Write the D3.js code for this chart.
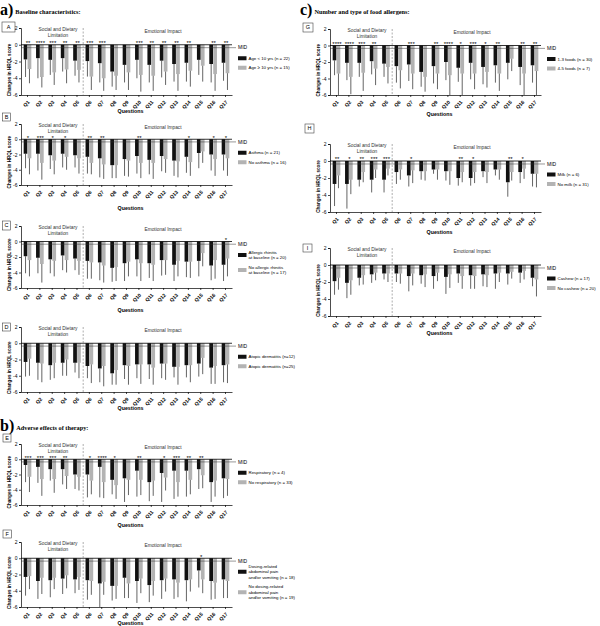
<!DOCTYPE html>
<html>
<head>
<meta charset="utf-8">
<script src="https://cdn.jsdelivr.net/npm/d3@7"></script>
<style>
  body { margin: 0; background: #fff; }
  svg text { font-family: "Liberation Sans", Arial, sans-serif; }
</style>
</head>
<body>
<div id="chart"></div>
<script>
/* CONSTANTS AND GLOBALS */
const width = 600,
  height = 626,
  plotW = 211,
  mid = -0.35;

const questions = ["Q1","Q2","Q3","Q4","Q5","Q6","Q7","Q8","Q9","Q10","Q11","Q12","Q13","Q14","Q15","Q16","Q17"];
const yTicks = [2, 0, -2, -4, -6];

/* DATA - mean change and SD per question */
// A: age
const ageYoungMean = [-1.75,-1.6,-1.8,-1.6,-1.9,-1.95,-2.2,-3.2,-2.4,-1.8,-2.4,-1.9,-2.3,-2.15,-1.8,-2.3,-2.15];
const ageYoungSD   = [2.1,2.4,1.8,1.6,1.8,1.85,2.3,1.8,2.1,2.2,2.1,2.0,2.1,2.25,1.8,2.2,2.15];
const ageOldMean   = [-2.9,-3.85,-3.3,-2.95,-3.0,-3.8,-4.0,-3.7,-3.3,-3.6,-3.7,-3.2,-3.5,-3.1,-2.5,-3.5,-3.4];
const ageOldSD     = [1.7,1.25,1.5,1.65,1.5,1.6,1.5,1.7,2.1,2.0,1.8,1.6,2.0,1.9,1.9,2.0,2.0];
const ageStars     = ["**","****","***","**","**","***","***","","","***","**","**","**","**","","**","**"];
// B: asthma
const asthmaMean   = [-1.9,-1.9,-2.1,-1.9,-2.1,-2.3,-2.5,-3.4,-2.6,-2.2,-2.7,-2.2,-2.8,-2.3,-1.8,-2.0,-2.0];
const asthmaSD     = [1.9,2.2,1.8,1.8,1.6,2.2,2.5,1.7,2.2,2.3,1.9,2.0,2.0,2.1,2.0,2.1,2.1];
const noAsthmaMean = [-2.5,-3.1,-2.8,-2.3,-2.5,-3.1,-3.3,-3.4,-2.8,-3.1,-3.1,-2.6,-2.9,-3.0,-1.6,-2.6,-2.5];
const noAsthmaSD   = [2.1,2.2,1.8,1.7,2.0,1.5,1.9,1.7,2.1,2.0,2.1,1.8,2.1,1.8,1.5,2.2,2.3];
const asthmaStars  = ["*","***","*","*","","**","**","","","**","","","","*","","*","*"];
// C: allergic rhinitis
const rhinitisMean   = [-1.9,-2.1,-2.3,-1.8,-2.2,-2.5,-2.7,-3.4,-2.8,-2.3,-2.8,-2.4,-3.0,-2.6,-2.5,-3.1,-3.0];
const rhinitisSD     = [2.2,2.0,1.8,1.9,1.5,2.3,2.3,1.8,2.3,2.2,1.9,2.0,2.1,2.0,2.0,1.9,2.1];
const noRhinitisMean = [-2.4,-2.9,-2.5,-2.4,-2.5,-2.7,-3.1,-3.3,-2.6,-2.8,-3.0,-2.4,-2.5,-2.6,-1.5,-2.4,-2.2];
const noRhinitisSD   = [2.1,2.4,2.0,1.6,1.8,2.1,2.2,1.8,1.9,2.3,2.1,1.9,2.0,2.1,1.7,2.4,2.3];
const rhinitisStars  = ["","","","","","","","","","","","","","","","","*"];
// D: atopic dermatitis
const adYesMean = [-2.3,-2.4,-2.7,-2.4,-2.4,-2.8,-3.1,-3.7,-2.7,-2.6,-2.6,-2.5,-2.9,-2.7,-2.5,-3.0,-2.7];
const adYesSD   = [1.8,2.1,1.8,1.6,1.2,1.5,1.7,1.4,1.7,1.7,1.8,1.8,1.3,1.5,1.6,2.0,2.1];
const adNoMean  = [-1.9,-2.5,-2.4,-2.0,-2.4,-2.6,-2.8,-3.3,-2.8,-2.6,-3.0,-2.5,-2.9,-2.7,-1.8,-2.8,-2.6];
const adNoSD    = [2.1,2.3,1.9,2.0,1.9,2.3,2.5,1.8,2.3,2.4,2.1,2.0,2.2,2.1,2.0,2.2,2.3];
const adStars   = ["","","","","","","","","","","","","","","","",""];
// E: respiratory adverse effects
const respMean   = [-0.75,-1.0,-1.3,-1.3,-2.0,-2.0,-1.0,-2.7,-2.5,-1.5,-3.0,-1.8,-1.5,-1.5,-1.3,-3.0,-2.5];
const respSD     = [2.25,2.1,1.5,2.0,1.9,3.0,4.0,1.9,3.1,3.4,2.5,3.8,3.7,3.4,2.6,2.6,2.6];
const noRespMean = [-2.3,-2.6,-2.6,-2.2,-2.3,-2.8,-3.0,-3.4,-2.7,-2.7,-2.8,-2.4,-3.0,-2.7,-2.1,-2.8,-2.6];
const noRespSD   = [2.0,2.2,1.8,1.7,1.8,1.8,2.1,1.8,2.0,2.0,2.0,1.7,1.9,1.9,1.7,2.1,2.2];
const respStars  = ["***","***","***","**","","*","****","*","","**","","*","***","**","**","",""];
// F: dosing-related abdominal pain
const abdoMean   = [-2.3,-2.8,-2.7,-2.5,-2.6,-2.7,-3.1,-3.4,-2.4,-2.8,-3.3,-2.7,-2.6,-2.7,-1.5,-2.8,-2.6];
const abdoSD     = [2.3,2.2,2.1,1.9,1.7,2.4,2.9,1.8,2.5,2.7,2.1,2.3,2.4,2.6,2.1,2.3,2.3];
const noAbdoMean = [-2.2,-2.4,-2.4,-2.1,-2.3,-2.8,-2.9,-3.4,-3.1,-2.5,-2.8,-2.5,-3.0,-2.6,-2.6,-3.0,-2.8];
const noAbdoSD   = [1.6,2.0,1.4,1.6,1.6,1.7,1.6,1.6,1.8,1.8,1.8,1.6,1.8,1.5,1.7,2.0,2.1];
const abdoStars  = ["","","","","","","","","","","","","","","*","",""];
// G: number of foods
const fewFoodsMean  = [-1.8,-2.1,-2.1,-1.9,-2.2,-2.5,-2.3,-3.2,-2.5,-2.0,-2.7,-2.1,-2.6,-2.4,-2.1,-2.6,-2.4];
const fewFoodsSD    = [1.8,2.1,1.7,1.6,1.6,2.0,2.0,1.8,2.1,2.2,1.7,2.0,2.1,2.1,2.0,2.2,2.1];
const manyFoodsMean = [-3.4,-3.8,-3.3,-2.8,-2.6,-3.0,-3.4,-3.8,-3.4,-3.6,-3.4,-3.4,-3.2,-3.4,-1.6,-3.4,-3.1];
const manyFoodsSD   = [2.6,2.1,2.2,2.0,2.0,2.2,1.9,1.8,1.9,2.4,2.6,1.9,1.9,2.1,1.5,2.6,2.9];
const foodsStars    = ["****","****","***","**","","","***","","**","****","*","***","*","**","","**","**"];
// H: milk
const milkMean   = [-2.7,-2.7,-2.2,-2.2,-2.2,-1.3,-1.7,-1.2,-1.0,-1.2,-2.0,-2.0,-1.2,-1.0,-2.5,-1.3,-1.5];
const milkSD     = [2.6,2.9,0.8,1.5,1.5,1.4,1.3,1.0,0.5,1.1,0.9,0.9,0.7,0.7,1.7,1.3,1.5];
const noMilkMean = [-1.7,-2.2,-1.3,-1.0,-0.9,-1.0,-1.1,-1.2,-1.0,-1.2,-1.3,-1.3,-1.3,-1.0,-1.3,-0.9,-1.5];
const noMilkSD   = [1.5,1.7,1.2,1.0,0.8,1.2,1.5,1.1,1.2,1.6,1.2,1.3,1.3,1.2,1.0,1.2,1.6];
const milkStars  = ["**","*","**","***","***","","*","","","","**","*","","","**","*",""];
// I: cashew
const cashewMean   = [-1.9,-2.1,-1.5,-1.1,-1.0,-1.0,-1.3,-1.2,-1.3,-1.4,-1.0,-1.2,-1.1,-1.0,-1.0,-0.9,-1.5];
const cashewSD     = [1.6,1.8,0.9,1.0,0.7,1.0,1.8,1.0,1.5,2.0,1.1,1.6,1.4,1.8,1.3,1.2,1.0];
const noCashewMean = [-1.5,-1.8,-1.2,-0.9,-1.0,-1.0,-1.0,-1.1,-0.9,-1.1,-1.3,-1.3,-1.2,-0.9,-0.8,-0.7,-1.7];
const noCashewSD   = [1.4,1.7,1.1,0.9,1.0,1.2,1.4,1.5,1.0,1.6,1.5,1.5,1.4,1.1,0.8,1.0,2.0];
const cashewStars  = ["","","","","","","","","","","","","","","","",""];

/* PANELS - data and legend text */
const panels = [
  { id: "A", s1: [ageYoungMean, ageYoungSD], s2: [ageOldMean, ageOldSD], stars: ageStars,
    legend: [["Age < 10 yrs (n = 22)"], ["Age \u2265 10 yrs (n = 15)"]] },
  { id: "B", s1: [asthmaMean, asthmaSD], s2: [noAsthmaMean, noAsthmaSD], stars: asthmaStars,
    legend: [["Asthma (n = 21)"], ["No asthma (n = 16)"]] },
  { id: "C", s1: [rhinitisMean, rhinitisSD], s2: [noRhinitisMean, noRhinitisSD], stars: rhinitisStars,
    legend: [["Allergic rhinitis", "at baseline (n = 20)"], ["No allergic rhinitis", "at baseline (n = 17)"]] },
  { id: "D", s1: [adYesMean, adYesSD], s2: [adNoMean, adNoSD], stars: adStars,
    legend: [["Atopic dermatitis (n=12)"], ["Atopic dermatitis (n=25)"]] },
  { id: "E", s1: [respMean, respSD], s2: [noRespMean, noRespSD], stars: respStars,
    legend: [["Respiratory  (n = 4)"], ["No respiratory (n = 33)"]] },
  { id: "F", s1: [abdoMean, abdoSD], s2: [noAbdoMean, noAbdoSD], stars: abdoStars,
    legend: [["Dosing-related", "abdominal pain", "and/or vomiting (n = 18)"], ["No dosing-related", "abdominal pain", "and/or vomiting (n = 19)"]] },
  { id: "G", s1: [fewFoodsMean, fewFoodsSD], s2: [manyFoodsMean, manyFoodsSD], stars: foodsStars,
    legend: [["1-3 foods (n = 30)"], ["4-5 foods (n = 7)"]] },
  { id: "H", s1: [milkMean, milkSD], s2: [noMilkMean, noMilkSD], stars: milkStars,
    legend: [["Milk (n = 6)"], ["No milk (n = 31)"]] },
  { id: "I", s1: [cashewMean, cashewSD], s2: [noCashewMean, noCashewSD], stars: cashewStars,
    legend: [["Cashew (n = 17)"], ["No cashew (n = 20)"]] }
];

// where each panel sits on the page
const layout = {
  A: { x0: 21,  top: 28,  bot: 95,  qy: 111, boxX: 2,   boxY: 22,  boxW: 13, boxH: 10 },
  B: { x0: 21,  top: 124, bot: 185, qy: 208, boxX: 2.5, boxY: 113, boxW: 8,  boxH: 8 },
  C: { x0: 21,  top: 226, bot: 288, qy: 310, boxX: 2.5, boxY: 221, boxW: 8,  boxH: 9 },
  D: { x0: 21,  top: 327, bot: 392, qy: 408, boxX: 2.5, boxY: 323, boxW: 8,  boxH: 8 },
  E: { x0: 21,  top: 444, bot: 505, qy: 525, boxX: 3,   boxY: 434, boxW: 8,  boxH: 8 },
  F: { x0: 21,  top: 542, bot: 607, qy: 623, boxX: 3,   boxY: 530, boxW: 8.5, boxH: 8 },
  G: { x0: 330, top: 29,  bot: 95,  qy: 114, boxX: 303, boxY: 23,  boxW: 10, boxH: 9 },
  H: { x0: 330, top: 144, bot: 212, qy: 232, boxX: 305, boxY: 124, boxW: 9,  boxH: 9 },
  I: { x0: 330, top: 248, bot: 316, qy: 333, boxX: 303, boxY: 244, boxW: 9,  boxH: 8 }
};

const colors = ["#111111", "#b3b3b3"];

/* SVG */
const svg = d3.select("#chart")
  .append("svg")
  .attr("width", width)
  .attr("height", height);

// section headings
const headings = [
  { x: 0, y: 15, letter: "a)", text: "Baseline characteristics:" },
  { x: 0, y: 431, letter: "b)", text: "Adverse effects of therapy:" },
  { x: 300, y: 15, letter: "c)", text: "Number and type of food allergens:" }
];
headings.forEach(h => {
  const t = svg.append("text")
    .attr("x", h.x)
    .attr("y", h.y)
    .style("font-family", "'Liberation Serif', 'Times New Roman', serif")
    .style("font-weight", "bold");
  t.append("tspan").style("font-size", "16px").text(h.letter);
  t.append("tspan").attr("dx", 2).attr("dy", -1.5).style("font-size", "6.3px").text(h.text);
});

panels.forEach(p => drawPanel(p, layout[p.id]));

/* DRAW ONE PANEL */
function drawPanel(p, lay) {
  const g = svg.append("g").attr("class", "panel-" + p.id);

  const xScale = d3.scaleBand()
    .domain(questions)
    .range([lay.x0, lay.x0 + plotW])
    .paddingInner(0.35)
    .paddingOuter(0.2);

  const sScale = d3.scaleBand()
    .domain([0, 1])
    .range([0, xScale.bandwidth()])
    .padding(0.05);

  const yScale = d3.scaleLinear()
    .domain([-6, 2])
    .range([lay.bot, lay.top]);

  // flatten the two series
  const rows = [];
  [p.s1, p.s2].forEach((s, si) => {
    questions.forEach((q, i) => rows.push({ q: q, s: si, mean: s[0][i], sd: s[1][i] }));
  });

  // y axis
  const yAxisGroup = g.append("g")
    .attr("transform", `translate(${lay.x0},0)`)
    .call(d3.axisLeft(yScale).tickValues(yTicks).tickSize(2).tickPadding(1.5).tickFormat(d => String(d)));
  yAxisGroup.selectAll("text").style("font-size", "5px");

  // x axis at the bottom
  const xAxisGroup = g.append("g")
    .attr("transform", `translate(0,${lay.bot})`)
    .call(d3.axisBottom(xScale).tickSize(2).tickSizeOuter(0));
  xAxisGroup.selectAll("text")
    .style("font-size", "5px")
    .style("font-weight", "bold")
    .attr("text-anchor", "end")
    .attr("dx", 0)
    .attr("dy", 0)
    .attr("transform", "translate(-1,4) rotate(-45)");

  g.selectAll(".domain, .tick line").attr("stroke", "#000").attr("stroke-width", 0.7);

  // bars
  g.selectAll("rect.bar")
    .data(rows)
    .join("rect")
    .attr("class", "bar")
    .attr("x", d => xScale(d.q) + sScale(d.s))
    .attr("y", yScale(0))
    .attr("width", sScale.bandwidth())
    .attr("height", d => yScale(d.mean) - yScale(0))
    .attr("fill", d => colors[d.s]);

  // one-sided error bars (SD below mean)
  g.selectAll("line.err")
    .data(rows)
    .join("line")
    .attr("class", "err")
    .attr("x1", d => xScale(d.q) + sScale(d.s) + sScale.bandwidth() / 2)
    .attr("x2", d => xScale(d.q) + sScale(d.s) + sScale.bandwidth() / 2)
    .attr("y1", d => yScale(d.mean))
    .attr("y2", d => yScale(d.mean - d.sd))
    .attr("stroke", "#222")
    .attr("stroke-width", 0.7);

  // zero line and MID line
  g.append("line")
    .attr("x1", lay.x0).attr("x2", lay.x0 + plotW)
    .attr("y1", yScale(0)).attr("y2", yScale(0))
    .attr("stroke", "#000").attr("stroke-width", 0.8);
  g.append("line")
    .attr("x1", lay.x0).attr("x2", lay.x0 + plotW + 4)
    .attr("y1", yScale(mid)).attr("y2", yScale(mid))
    .attr("stroke", "#333").attr("stroke-width", 0.5);
  g.append("text")
    .attr("x", lay.x0 + plotW + 6)
    .attr("y", yScale(mid) + 1.8)
    .style("font-size", "5px")
    .text("MID");

  // dashed divider between Q5 and Q6
  const divX = (xScale("Q5") + xScale.bandwidth() + xScale("Q6")) / 2;
  g.append("line")
    .attr("x1", divX).attr("x2", divX)
    .attr("y1", yScale(2)).attr("y2", yScale(-6))
    .attr("stroke", "#777").attr("stroke-width", 0.6)
    .attr("stroke-dasharray", "2,1.5");

  // section captions
  g.append("text")
    .attr("x", lay.x0 + 37).attr("y", lay.top + 3.3)
    .attr("text-anchor", "middle").style("font-size", "4.8px").attr("fill", "#333")
    .text("Social and Dietary");
  g.append("text")
    .attr("x", lay.x0 + 37).attr("y", lay.top + 8.8)
    .attr("text-anchor", "middle").style("font-size", "4.8px").attr("fill", "#333")
    .text("Limitation");
  g.append("text")
    .attr("x", lay.x0 + 142).attr("y", lay.top + 4.5)
    .attr("text-anchor", "middle").style("font-size", "4.8px").attr("fill", "#333")
    .text("Emotional Impact");

  // significance stars
  g.selectAll("text.star")
    .data(questions.map((q, i) => ({ q: q, s: p.stars[i] })).filter(d => d.s))
    .join("text")
    .attr("class", "star")
    .attr("x", d => xScale(d.q) + xScale.bandwidth() / 2 + 0.5)
    .attr("y", yScale(0) + 0.3)
    .attr("text-anchor", "middle")
    .style("font-size", "6px")
    .text(d => d.s);

  // y axis title
  g.append("text")
    .attr("transform", `translate(${lay.x0 - 10},${yScale(-3)}) rotate(-90)`)
    .attr("text-anchor", "middle")
    .style("font-size", "4.6px")
    .style("font-weight", "bold")
    .text("Changes in HRQL score");

  // x axis title
  g.append("text")
    .attr("x", lay.x0 + plotW / 2 + 4)
    .attr("y", lay.qy + 1.8)
    .attr("text-anchor", "middle")
    .style("font-size", "5.3px")
    .style("font-weight", "bold")
    .text("Questions");

  // panel letter box
  g.append("rect")
    .attr("x", lay.boxX).attr("y", lay.boxY)
    .attr("width", lay.boxW).attr("height", lay.boxH)
    .attr("fill", "none").attr("stroke", "#444").attr("stroke-width", 0.6);
  g.append("text")
    .attr("x", lay.boxX + lay.boxW / 2).attr("y", lay.boxY + lay.boxH / 2 + 1.9)
    .attr("text-anchor", "middle").style("font-size", "5.5px")
    .text(p.id);

  // legend
  const lineH = 5.5;
  let cy = yScale(0) + 13.5;
  p.legend.forEach((lines, i) => {
    if (i > 0) cy += (p.legend[i - 1].length + lines.length) / 2 * lineH + 4;
    g.append("rect")
      .attr("x", lay.x0 + 217).attr("y", cy - 2)
      .attr("width", 8.5).attr("height", 4)
      .attr("fill", colors[i]);
    lines.forEach((ln, j) => {
      g.append("text")
        .attr("x", lay.x0 + 227.5)
        .attr("y", cy + (j - (lines.length - 1) / 2) * lineH + 1.6)
        .style("font-size", "4.4px")
        .text(ln);
    });
  });
}
</script>
</body>
</html>
